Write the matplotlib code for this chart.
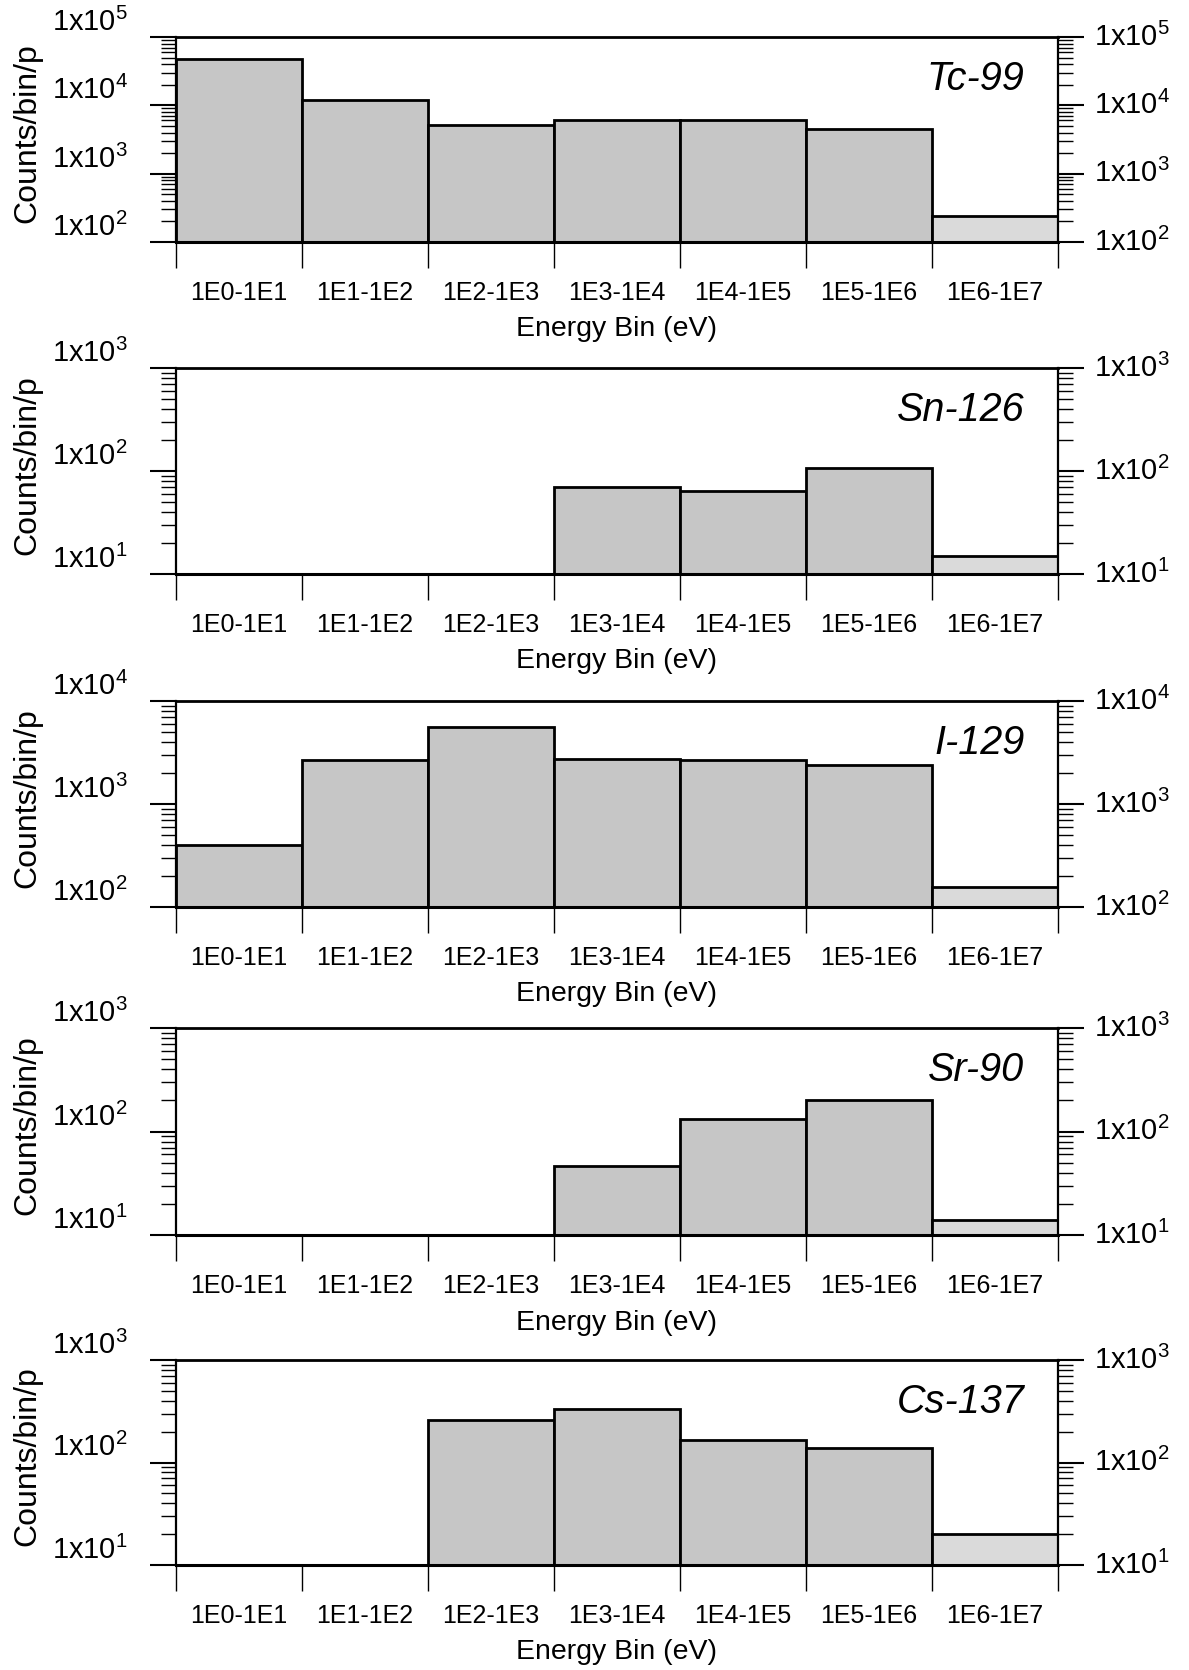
import matplotlib
matplotlib.use('Agg')
import matplotlib.pyplot as plt
import numpy as np
from matplotlib.ticker import FixedLocator, NullFormatter, LogLocator

plt.rcParams['font.family'] = ['Liberation Sans', 'DejaVu Sans']
plt.rcParams['mathtext.default'] = 'regular'

# Dados
bins = ['1E0-1E1', '1E1-1E2', '1E2-1E3', '1E3-1E4', '1E4-1E5', '1E5-1E6', '1E6-1E7']
isotopes = ['Tc-99', 'Sn-126', 'I-129', 'Sr-90', 'Cs-137']
tc99 = [48000, 12000, 5200, 6000, 6200, 4500, 240]
sn126 = [0, 0, 0, 70, 64, 108, 15]
i129 = [400, 2700, 5600, 2750, 2650, 2400, 155]
sr90 = [0, 0, 0, 46, 133, 200, 14]
cs137 = [0, 0, 260, 330, 167, 138, 20]
series = [tc99, sn126, i129, sr90, cs137]
decades = [(2, 5), (1, 3), (2, 4), (1, 3), (1, 3)]

W, H = 1189, 1670
tops = [37, 368, 701, 1028, 1360]
bottoms = [242, 574, 907, 1235, 1565]
left_px, right_px = 176, 1058

fig = plt.figure(figsize=(W / 100, H / 100), dpi=100)

for k in range(5):
    ax = fig.add_axes([left_px / W, 1 - bottoms[k] / H,
                       (right_px - left_px) / W, (bottoms[k] - tops[k]) / H])
    lo, hi = decades[k]
    ymin, ymax = 10.0 ** lo, 10.0 ** hi
    ax.set_yscale('log')
    ax.set_ylim(ymin, ymax)
    ax.set_xlim(0, len(bins))

    vals = np.array(series[k], dtype=float)
    for i, v in enumerate(vals):
        if v <= 0:
            continue
        cor = '#dadada' if i == len(bins) - 1 else '#c6c6c6'
        ax.bar(i + 0.5, v - ymin, bottom=ymin, width=1.0, color=cor,
               edgecolor='black', linewidth=2.0, zorder=2)

    # eixo x: marcas nas bordas, rótulos no centro
    ax.xaxis.set_major_locator(FixedLocator(np.arange(len(bins) + 1)))
    ax.xaxis.set_major_formatter(NullFormatter())
    ax.xaxis.set_minor_locator(FixedLocator(np.arange(len(bins)) + 0.5))
    ax.set_xticklabels(bins, minor=True)
    ax.tick_params(axis='x', which='major', direction='out', length=19, width=1.0)
    ax.tick_params(axis='x', which='minor', length=0, pad=28, labelsize=18)

    # eixo y dos dois lados
    ax.yaxis.set_major_locator(FixedLocator([10.0 ** e for e in range(lo, hi + 1)]))
    ax.set_yticklabels([r'$1x10^{%d}$' % e for e in range(lo, hi + 1)])
    ax.yaxis.set_minor_locator(LogLocator(base=10, subs=np.arange(2, 10), numticks=100))
    ax.yaxis.set_minor_formatter(NullFormatter())
    ax.tick_params(axis='y', which='both', left=True, right=True,
                   labelleft=True, labelright=True, direction='out')
    ax.tick_params(axis='y', which='major', length=19, width=1.5, labelsize=21)
    ax.tick_params(axis='y', which='minor', length=11, width=1.0)
    for t in ax.yaxis.get_major_ticks():
        t.label1.set_verticalalignment('bottom')
        t.label2.set_verticalalignment('center')
        t.label1.set_x(-0.019)
        t.label2.set_x(1.005)

    for s in ['top', 'bottom', 'left', 'right']:
        ax.spines[s].set_linewidth(1.6)
    ax.spines['bottom'].set_linewidth(2.2)
    ax.spines['top'].set_linewidth(2.0)

    ax.set_xlabel('Energy Bin (eV)', fontsize=20.5)
    ax.xaxis.set_label_coords(0.5, -0.36)
    ax.set_ylabel('Counts/bin/p', fontsize=23)
    ax.yaxis.set_label_coords(-0.152, 0.53)

    ax.text(0.962, 0.795, isotopes[k], transform=ax.transAxes, ha='right',
            va='center', fontsize=28.5, style='italic')

fig.savefig('out.png', dpi=100)
